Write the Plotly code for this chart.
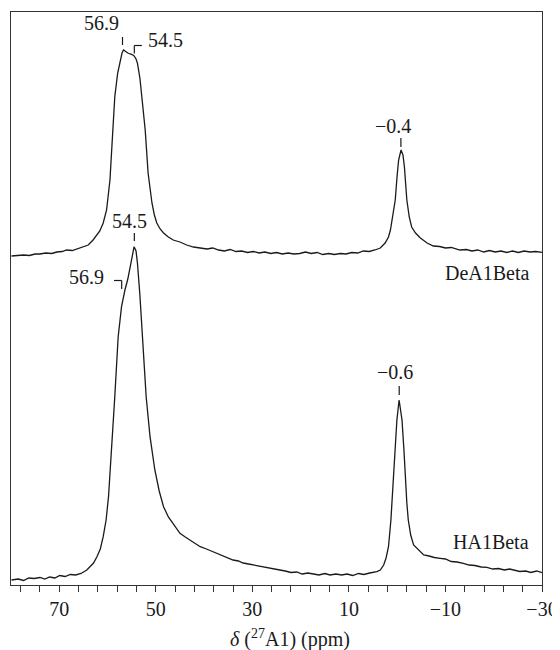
import plotly.graph_objects as go

# Chemical shift (ppm) and intensity (arbitrary units)
ha_ppm = [79.9, 78.5, 77.4, 76.3, 75.2, 74.0, 73.0, 72.0, 70.9, 69.9, 68.8, 67.7, 66.6, 65.5,
          64.3, 63.6, 62.9, 62.2, 61.5, 60.9, 60.3, 59.8, 59.1, 58.5, 57.8, 57.4, 57.1, 56.4,
          55.8, 55.3, 54.9, 54.5, 54.1, 53.8, 53.3, 52.9, 52.0, 51.2, 50.2, 49.3, 48.4, 47.4,
          46.4, 45.0, 43.9, 42.9, 41.8, 40.8, 39.5, 38.3, 37.2, 36.0, 35.0, 34.0, 32.9, 31.9,
          30.8, 29.8, 28.6, 27.5, 26.5, 25.4, 24.3, 23.2, 22.0, 20.8, 19.7, 18.5, 17.4, 16.2,
          15.0, 13.9, 12.7, 11.5, 10.4, 9.2, 8.0, 6.9, 5.7, 4.2, 3.5, 2.8, 2.3, 1.8, 1.3, 0.8,
          0.4, 0.06, -0.4, -1.0, -1.4, -1.7, -2.0, -2.3, -2.8, -3.4, -4.4, -5.5, -6.6, -7.7,
          -8.9, -10.0, -11.2, -12.4, -13.7, -14.9, -16.1, -17.4, -18.6, -19.8, -21.0, -22.2,
          -23.3, -24.1, -25.4, -26.6, -27.7, -28.9, -30.0]
ha_int = [5, 6, 4.5, 7, 6.5, 7.5, 6, 8, 7, 9.5, 8.5, 10.5, 10, 11.5,
          15, 18.3, 22, 28.3, 36, 48.3, 65, 88.3, 138.3, 188.3, 248.3, 268, 278.3, 295,
          306, 318.3, 330, 338.3, 334, 321.7, 290, 255, 188.3, 148.3, 115, 94, 78.3, 68,
          61.7, 51.7, 48, 45, 41, 38.3, 36, 33.5, 31, 29, 27, 25, 24, 22,
          21, 20, 19, 17.5, 17, 15.5, 15, 14, 12.5, 13, 11, 12, 11, 10,
          11.5, 10, 11, 10, 11, 9.5, 11.5, 10.5, 12, 13.3, 15, 20, 27, 38.3, 65, 105,
          140, 165, 185, 165, 135, 105, 82, 65, 50, 40, 35, 30, 29, 27.5,
          26.7, 26, 23.5, 23, 21.7, 20, 19.5, 18, 17.7, 16, 16.5, 15,
          16, 15, 13.5, 14, 12.5, 14, 12.3]

dea_ppm = [79.9, 78.7, 77.4, 76.2, 75.0, 74.0, 72.8, 71.6, 70.5, 69.4, 68.5, 67.3, 66.2, 65.0,
           64.0, 63.0, 62.3, 61.6, 60.9, 60.2, 59.5, 58.9, 58.5, 57.9, 57.4, 57.0, 56.7, 56.2,
           55.8, 55.3, 54.9, 54.5, 54.1, 53.8, 53.3, 52.9, 52.2, 51.6, 50.8, 50.3, 49.8, 49.1,
           48.4, 47.4, 46.4, 45.0, 43.6, 42.2, 40.8, 39.4, 38.2, 37.0, 35.8, 34.6, 33.4, 32.2,
           31.0, 29.8, 28.6, 27.4, 26.2, 25.0, 23.8, 22.6, 21.4, 20.2, 19.0, 17.8, 16.6, 15.4,
           14.2, 13.0, 11.8, 10.6, 9.4, 8.2, 7.0, 5.8, 4.6, 3.5, 2.5, 1.8, 1.4, 0.9, 0.4, 0.0,
           -0.3, -0.8, -1.2, -1.5, -2.0, -2.5, -3.0, -3.8, -4.8, -6.2, -7.5, -8.8, -10.0, -11.2,
           -11.7, -13.0, -14.3, -15.5, -16.7, -17.9, -19.1, -20.3, -21.5, -22.7, -23.9, -25.1,
           -26.3, -27.5, -28.7, -30.0]
dea_int = [29, 29.5, 30, 29.5, 31, 31, 32, 31.5, 33, 33.5, 35, 34.5, 36.5, 38.3,
           40, 45, 49, 54, 62, 75, 105, 155, 188.3, 212, 225, 232, 235, 233,
           232, 231, 230.5, 229, 226, 221.7, 207, 188.3, 155, 112, 82, 70, 62, 56,
           52, 48, 45, 43, 40, 38, 37, 36, 37, 35, 34, 35.5, 33.5, 34,
           32.5, 33.5, 32, 33, 31.5, 32.5, 31, 32, 31, 31.5, 33, 31.5, 32.5, 30.5,
           31.5, 30.5, 31.5, 31, 32.5, 32, 34, 33.5, 35, 37, 42, 48, 55, 68, 85, 110,
           125, 135, 130, 118, 85, 68, 58, 52, 47, 42, 39, 38.5, 37, 37.5,
           36.7, 35, 35.5, 34, 35, 33, 34.5, 33, 34, 32.5, 34, 32.5,
           34, 33, 33.5, 32.7]

dea_offset = 300

tick_vals = [70, 50, 30, 10, -10, -30]
tick_text = ["70", "50", "30", "10", "\u221210", "\u221230"]

FONT = "Liberation Serif"
INK = "#1a1a1a"

fig = go.Figure()
fig.add_trace(go.Scatter(x=ha_ppm, y=ha_int, mode="lines",
                         line=dict(color=INK, width=1.3), hoverinfo="skip"))
fig.add_trace(go.Scatter(x=dea_ppm, y=[v + dea_offset for v in dea_int], mode="lines",
                         line=dict(color=INK, width=1.3), hoverinfo="skip"))

shapes = []
def seg(x0, y0, x1, y1):
    shapes.append(dict(type="line", xref="x", yref="y", x0=x0, y0=y0, x1=x1, y1=y1,
                       line=dict(color=INK, width=1.2)))

# DeA1Beta peak markers
seg(56.9, 540, 56.9, 548)
seg(54.45, 531.5, 54.45, 539.5)
seg(54.45, 539.5, 52.9, 539.5)
seg(-0.77, 438, -0.77, 447)
# HA1Beta peak markers
seg(54.45, 344, 54.45, 352)
seg(57.07, 296, 57.07, 304.5)
seg(57.07, 304.5, 58.66, 304.5)
seg(-0.42, 190, -0.42, 199)
fig.update_layout(shapes=shapes)

def label(x, y, text, xanchor="center", size=20):
    fig.add_annotation(x=x, y=y, xref="x", yref="y", text=text, showarrow=False,
                       xanchor=xanchor, yanchor="middle",
                       font=dict(family=FONT, size=size, color=INK))

label(61.15, 562, "56.9")
label(47.9, 545, "54.5")
label(0.93, 459, "\u22120.4")
label(-18.66, 312.5, "DeA1Beta")
label(55.4, 364, "54.5")
label(64.26, 308, "56.9")
label(0.51, 213.5, "\u22120.6")
label(-19.5, 43.5, "HA1Beta")

fig.add_annotation(x=0.525, y=-0.0925, xref="paper", yref="paper",
                   text="<i>\u03b4</i> (<sup>27</sup>A1) (ppm)", showarrow=False,
                   xanchor="center", yanchor="middle",
                   font=dict(family=FONT, size=20, color=INK))

# page body has an 8 px margin, so the figure is shrunk and shifted accordingly
fig.update_layout(
    width=552, height=642,
    margin=dict(l=3, r=18, t=4, b=65),
    paper_bgcolor="white", plot_bgcolor="white",
    showlegend=False,
    xaxis=dict(range=[80, -30], showgrid=False, zeroline=False,
               showline=True, mirror=True, linecolor="#333", linewidth=1.3,
               ticks="outside", ticklen=6, tickwidth=1.2, tickcolor="#333",
               tickmode="array", tickvals=tick_vals, ticktext=tick_text,
               minor=dict(tickmode="linear", tick0=70, dtick=4, ticks="outside",
                          ticklen=6, tickwidth=1.2, tickcolor="#333", showgrid=False),
               tickfont=dict(family=FONT, size=20, color=INK)),
    yaxis=dict(range=[0, 573], showgrid=False, zeroline=False, showticklabels=False,
               showline=True, mirror=True, linecolor="#333", linewidth=1.3, ticks=""),
)

fig.write_html("out.html")
